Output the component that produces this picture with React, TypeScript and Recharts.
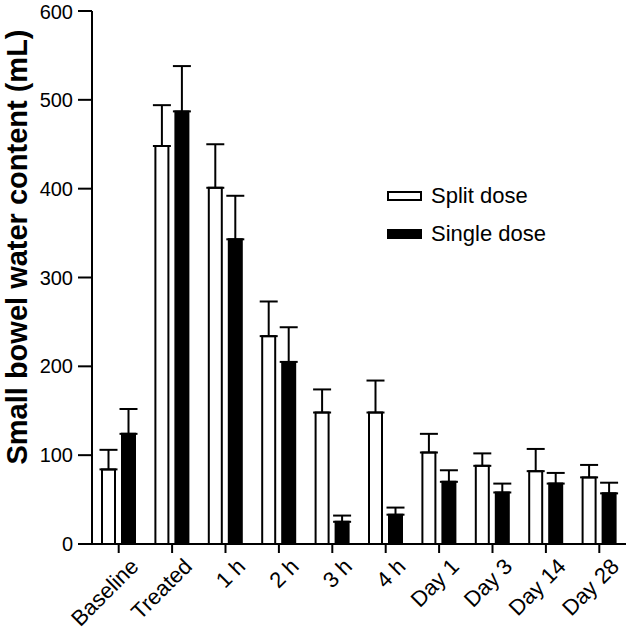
import { BarChart, Bar, XAxis, YAxis, ErrorBar, Label } from 'recharts';

const categories = ['Baseline', 'Treated', '1 h', '2 h', '3 h', '4 h', 'Day 1', 'Day 3', 'Day 14', 'Day 28'];
const splitDose = [84, 448, 401, 234, 148, 148, 103, 88, 82, 75];
const splitDoseErr = [22, 46, 49, 39, 26, 36, 21, 14, 25, 14];
const singleDose = [124, 487, 343, 205, 25, 33, 70, 58, 68, 57];
const singleDoseErr = [28, 51, 49, 39, 7, 8, 13, 10, 12, 12];
const yTicks = [0, 100, 200, 300, 400, 500, 600];

const data = categories.map((name, i) => ({
	name,
	split: splitDose[i],
	splitErr: [0, splitDoseErr[i]],
	single: singleDose[i],
	singleErr: [0, singleDoseErr[i]],
}));

const font = '"Liberation Sans", Arial, sans-serif';

const XTick = ({ x, y, payload }: any) => (
	<g transform={`translate(${x},${y})`}>
		<text x={6} y={8} textAnchor="end" transform="rotate(-45)" fontSize={22} fontFamily={font} fill="#000" dominantBaseline="hanging">
			{payload.value}
		</text>
	</g>
);

const LegendBox = () => (
	<div style={{ position: 'absolute', left: 387, top: 177, fontFamily: font, fontSize: 22, color: '#000' }}>
		<div style={{ display: 'flex', alignItems: 'center', height: 38 }}>
			<span style={{ display: 'inline-block', width: 31, height: 6, border: '2px solid #000', background: '#fff', marginRight: 9 }} />
			Split dose
		</div>
		<div style={{ display: 'flex', alignItems: 'center', height: 38 }}>
			<span style={{ display: 'inline-block', width: 35, height: 10, background: '#000', marginRight: 9 }} />
			Single dose
		</div>
	</div>
);

export default function App() {
	return (
		<div style={{ position: 'absolute', left: 0, top: 0, width: 628, height: 633 }}>
			<BarChart
				width={628}
				height={633}
				data={data}
				barSize={13}
				barGap={7}
				margin={{ top: 11, right: 2, left: 0, bottom: 0 }}
			>
				<XAxis
					dataKey="name"
					height={89}
					interval={0}
					tick={<XTick />}
					tickSize={9}
					axisLine={{ stroke: '#000', strokeWidth: 2 }}
					tickLine={{ stroke: '#000', strokeWidth: 2 }}
				/>
				<YAxis
					domain={[0, 600]}
					ticks={yTicks}
					width={92}
					tickSize={14}
					tickMargin={5}
					tick={{ fill: '#000', fontSize: 20, fontFamily: font }}
					axisLine={{ stroke: '#000', strokeWidth: 2 }}
					tickLine={{ stroke: '#000', strokeWidth: 2 }}
				>
					<Label
						content={() => (
							<text
								x={27}
								y={247}
								transform="rotate(-90 27 247)"
								textAnchor="middle"
								fontSize={29}
								fontWeight="bold"
								fontFamily={font}
								fill="#000"
							>
								Small bowel water content (mL)
							</text>
						)}
					/>
				</YAxis>
				<Bar dataKey="split" name="Split dose" fill="#fff" stroke="#000" strokeWidth={2} isAnimationActive={false}>
					<ErrorBar dataKey="splitErr" direction="y" width={9} stroke="#000" strokeWidth={2} />
				</Bar>
				<Bar dataKey="single" name="Single dose" fill="#000" stroke="#000" strokeWidth={2} isAnimationActive={false}>
					<ErrorBar dataKey="singleErr" direction="y" width={9} stroke="#000" strokeWidth={2} />
				</Bar>
			</BarChart>
			<LegendBox />
		</div>
	);
}
